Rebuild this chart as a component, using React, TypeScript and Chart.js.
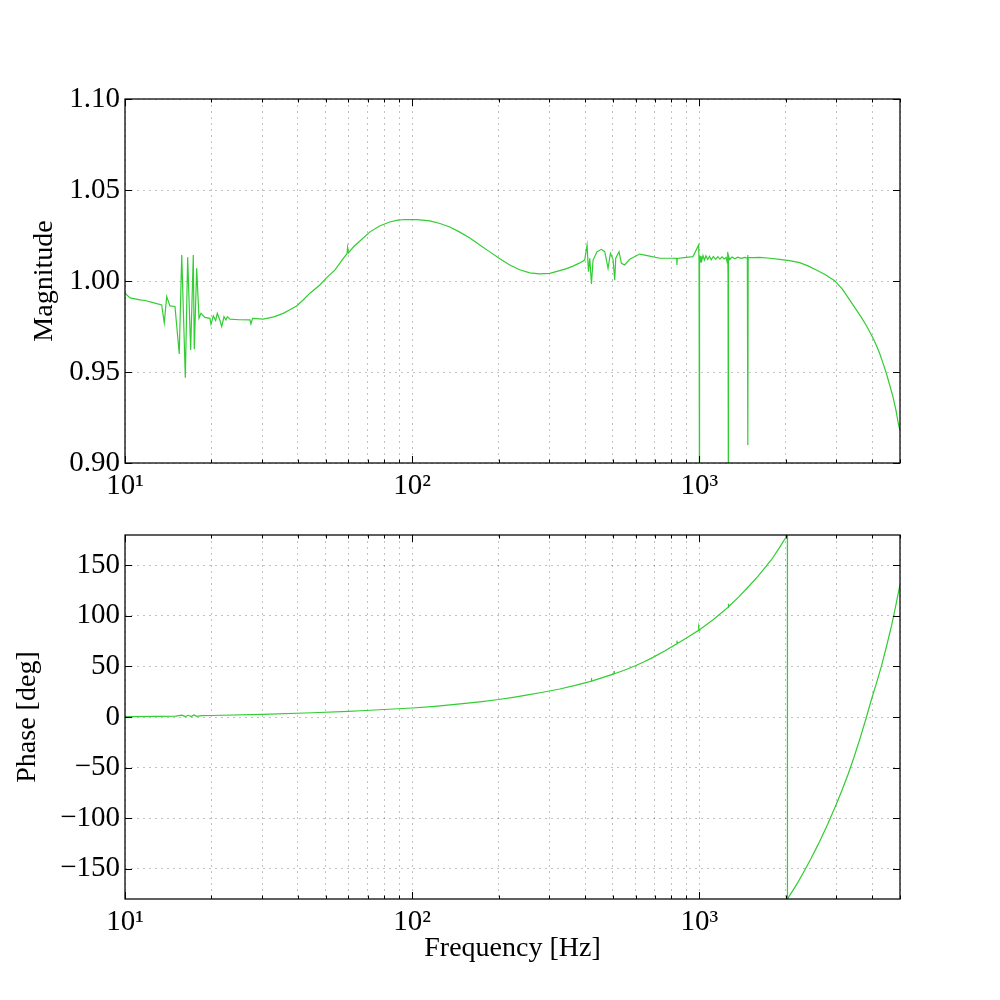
import { useEffect, useRef } from "react";
import { Chart, registerables } from "chart.js";

Chart.register(...registerables);

const FONT = "'Liberation Serif', 'Times New Roman', serif";
const LINE_COLOR = "#32cd32";

// magnitude trace
const magFreq = [
  10, 10.41, 11.28, 11.74, 12.52, 13.42, 13.7, 13.97, 14.34, 14.93,
  15.45, 15.76, 16.22, 16.53, 16.93, 17.29, 17.43, 17.77, 18.1, 18.39,
  18.98, 19.76, 19.93, 20.3, 20.69, 20.96, 21.42, 21.72, 22.12, 22.47,
  22.71, 23.2, 25.0, 27.23, 27.45, 27.82, 30.29, 33.0, 35.56, 37.5,
  39.6, 41.8, 44.06, 47.72, 50.5, 53.8, 57.0, 59.3, 59.6, 60.0,
  62.5, 65.8, 71.3, 77.0, 83.6, 89.0, 94.3, 104, 115.3, 125,
  135.3, 146, 158.8, 172, 186.4, 202, 218.8, 237, 256.9, 278,
  301.5, 326.6, 345, 363.4, 382, 399,
  406.6, 411.2, 415.5, 421.1, 426.6, 440.5, 456.3, 468.5, 481.1, 490.4,
  500.7, 507.6, 511.7, 525.4, 535.6, 550, 572.4, 620.2, 672, 728,
  810, 834, 836, 838, 900, 950.6, 995, 998, 1000, 1002,
  1004, 1008, 1013, 1020, 1030, 1042, 1055, 1070, 1085, 1100,
  1120, 1140, 1160, 1180, 1200, 1220, 1240, 1252, 1256, 1259,
  1261, 1263, 1266, 1275, 1300, 1330, 1360, 1400, 1440, 1470,
  1474, 1477, 1480, 1550, 1623, 1760, 1905, 2060, 2236, 2390,
  2556, 2750, 2960, 3150, 3338, 3500, 3667, 3820, 3972, 4110,
  4245, 4360, 4480, 4600, 4724, 4840, 4943, 5000,
];
const magValues = [
  0.9933, 0.9907, 0.9896, 0.9893, 0.9881, 0.9868, 0.977, 0.9914, 0.9863, 0.986,
  0.9599, 1.0143, 0.9469, 1.013, 0.9621, 1.0143, 0.9625, 1.007, 0.9795, 0.9822,
  0.98, 0.9795, 0.9762, 0.9808, 0.9783, 0.9822, 0.9783, 0.9749, 0.9804, 0.9786,
  0.9804, 0.979, 0.9787, 0.9786, 0.9764, 0.9795, 0.9791, 0.9803, 0.9822, 0.9842,
  0.9863, 0.9897, 0.9933, 0.9978, 1.002, 1.006, 1.0115, 1.015, 1.0185, 1.0155,
  1.0188, 1.022, 1.027, 1.0302, 1.0324, 1.0334, 1.0338, 1.0337, 1.033, 1.0316,
  1.0297, 1.027, 1.0236, 1.0198, 1.016, 1.0122, 1.0088, 1.0062, 1.0045, 1.0039,
  1.0042, 1.0057, 1.0068, 1.0082, 1.0098, 1.0115,
  1.0198, 1.0051, 1.0125, 0.9984, 1.0115, 1.0161, 1.0174, 1.0161, 1.007, 1.0152,
  1.0119, 1.0005, 1.0125, 1.0161, 1.0097, 1.0088, 1.0119, 1.0148, 1.0137, 1.0125,
  1.0125, 1.0124, 1.0088, 1.0124, 1.013, 1.0134, 1.0198, 1.01, 0.85, 1.007,
  1.014, 1.0105, 1.0138, 1.0112, 1.014, 1.0115, 1.0138, 1.0118, 1.0136, 1.0117,
  1.0135, 1.0119, 1.0134, 1.012, 1.0133, 1.0121, 1.013, 1.01, 1.016, 1.003,
  0.85, 1.006, 1.014, 1.0118, 1.0132, 1.0122, 1.0131, 1.0124, 1.013, 1.0125,
  1.0143, 0.9099, 1.013, 1.0128, 1.013, 1.0125, 1.0119, 1.0112, 1.0101, 1.0083,
  1.006, 1.0034, 1.0002, 0.9955, 0.9896, 0.9848, 0.98, 0.9754, 0.9705, 0.9657,
  0.9603, 0.955, 0.9493, 0.943, 0.9365, 0.929, 0.921, 0.918,
];

// phase trace in degrees (wraps at +/-180)
const phaseFreq = [
  10, 13, 15, 15.8, 16.2, 16.6, 17.0, 17.4, 17.8, 18.5,
  20, 30, 45, 60, 66, 80, 100, 120, 150, 175,
  200, 225, 250, 285, 326.6, 370, 415.5, 420, 421, 422,
  460, 504, 505, 506, 545, 596, 640, 690, 760, 834,
  836, 838, 900, 990, 995, 1000, 1005, 1120, 1259, 1262,
  1265, 1370, 1477, 1600, 1781, 1900, 2027, 2028, 2100, 2200,
  2300, 2450, 2600, 2800, 3000, 3150, 3300, 3450, 3615, 3790,
  3972, 4140, 4303, 4480, 4663, 4800, 4943, 5000,
];
const phaseValues = [
  0.3, 0.6, 0.8, 1.8, 0.4, 1.7, 0.5, 2.1, 0.7, 1.3,
  1.5, 2.6, 4.2, 5.6, 6.2, 7.4, 8.9, 10.6, 13.2, 15.2,
  17.3, 19.5, 21.6, 24.5, 27.7, 31.3, 35.0, 35.4, 38.5, 35.5,
  39.0, 42.6, 45.5, 42.8, 46.0, 50.4, 54.4, 59.0, 65.5, 72.3,
  75.5, 72.6, 77.8, 85.4, 89.0, 86.0, 86.6, 96.5, 108.5, 112.0,
  109.0, 118.5, 128.3, 139.0, 155.3, 167.2, 180, -180, -173.2, -164,
  -154.3, -140, -125.5, -106, -86.3, -71.5, -56.3, -40.5, -22.7, -3.5,
  16.8, 33.5, 49.8, 69, 89.3, 106, 124, 131,
];

const freqTicks = [
  10, 20, 30, 40, 50, 60, 70, 80, 90,
  100, 200, 300, 400, 500, 600, 700, 800, 900,
  1000, 2000, 3000, 4000, 5000,
];
const freqLabels: Record<number, string> = { 10: "10¹", 100: "10²", 1000: "10³" };
const magTicks = [0.9, 0.95, 1.0, 1.05, 1.1];
const phaseTicks = [-150, -100, -50, 0, 50, 100, 150];

// box round the plot area with inward tick marks, like the original
const framePlugin = {
  id: "frame",
  afterDraw(chart: any) {
    const { ctx, chartArea } = chart;
    const { left, right, top, bottom } = chartArea;
    const xs = chart.scales.x;
    const ys = chart.scales.y;
    ctx.save();
    ctx.strokeStyle = "#000";
    ctx.lineWidth = 1;
    ctx.beginPath();
    for (const v of freqTicks) {
      const px = Math.round(xs.getPixelForValue(v)) + 0.5;
      const len = freqLabels[v] ? 7 : 3.5;
      ctx.moveTo(px, bottom);
      ctx.lineTo(px, bottom - len);
      ctx.moveTo(px, top);
      ctx.lineTo(px, top + len);
    }
    for (const t of ys.ticks) {
      const py = Math.round(ys.getPixelForValue(t.value)) + 0.5;
      ctx.moveTo(left, py);
      ctx.lineTo(left + 7, py);
      ctx.moveTo(right, py);
      ctx.lineTo(right - 7, py);
    }
    ctx.stroke();
    ctx.lineWidth = 1.25;
    ctx.strokeRect(left, top, right - left, bottom - top);
    ctx.restore();
  },
};

type PanelProps = {
  freq: number[];
  values: number[];
  yMin: number;
  yMax: number;
  yTicks: number[];
  yFormat: (v: number) => string;
  yTitle: string;
  yTitlePad: number;
  padTop: number;
  xHeight: number;
  xTitle?: string;
};

const Panel = (p: PanelProps) => {
  const chartRef = useRef<HTMLCanvasElement | null>(null);
  const chartInstance = useRef<Chart | null>(null);

  useEffect(() => {
    if (!chartRef.current) return;
    if (chartInstance.current) chartInstance.current.destroy();

    const points = p.freq.map((f, i) => ({ x: f, y: p.values[i] }));
    const tickFont = { family: FONT, size: 29 };
    const titleFont = { family: FONT, size: 28 };

    chartInstance.current = new Chart(chartRef.current, {
      type: "scatter",
      data: {
        datasets: [
          {
            data: points,
            showLine: true,
            borderColor: LINE_COLOR,
            backgroundColor: LINE_COLOR,
            borderWidth: 1.2,
            pointRadius: 0,
            tension: 0,
          },
        ],
      },
      options: {
        animation: false,
        responsive: true,
        maintainAspectRatio: false,
        events: [],
        layout: { padding: { top: p.padTop, right: 100, left: 0, bottom: 0 } },
        plugins: {
          legend: { display: false },
          tooltip: { enabled: false },
        },
        scales: {
          x: {
            type: "logarithmic",
            min: 10,
            max: 5000,
            afterBuildTicks: (scale: any) => {
              scale.ticks = freqTicks.map((v) => ({ value: v, major: !!freqLabels[v] }));
            },
            afterFit: (scale: any) => {
              scale.height = p.xHeight;
            },
            grid: {
              color: "rgba(0, 0, 0, 0.24)",
              lineWidth: 1,
              drawTicks: false,
            },
            border: { display: false, dash: [2, 4] },
            ticks: {
              autoSkip: false,
              maxRotation: 0,
              padding: 6,
              color: "#000",
              font: tickFont,
              callback: (value: any) => freqLabels[Number(value)] ?? "",
            },
            title: {
              display: !!p.xTitle,
              text: p.xTitle ?? "",
              color: "#000",
              font: titleFont,
              padding: { top: 0, bottom: 35 },
            },
          },
          y: {
            type: "linear",
            min: p.yMin,
            max: p.yMax,
            afterBuildTicks: (scale: any) => {
              scale.ticks = p.yTicks.map((v) => ({ value: v }));
            },
            afterFit: (scale: any) => {
              scale.width = 125;
            },
            grid: {
              color: "rgba(0, 0, 0, 0.24)",
              lineWidth: 1,
              drawTicks: false,
            },
            border: { display: false, dash: [2, 4] },
            ticks: {
              padding: 5,
              color: "#000",
              font: tickFont,
              callback: (value: any) => p.yFormat(Number(value)),
            },
            title: {
              display: true,
              text: p.yTitle,
              color: "#000",
              font: titleFont,
              padding: { top: p.yTitlePad, bottom: 0 },
            },
          },
        },
      },
      plugins: [framePlugin],
    } as any);

    return () => {
      if (chartInstance.current) {
        chartInstance.current.destroy();
        chartInstance.current = null;
      }
    };
  }, []);

  return (
    <div style={{ width: 1000, height: 500, position: "relative" }}>
      <canvas ref={chartRef} />
    </div>
  );
};

export default function App() {
  return (
    <div style={{ position: "absolute", left: 0, top: 0, width: 1000, height: 1000, background: "#fff" }}>
      <Panel
        freq={magFreq}
        values={magValues}
        yMin={0.9}
        yMax={1.1}
        yTicks={magTicks}
        yFormat={(v) => v.toFixed(2)}
        yTitle="Magnitude"
        yTitlePad={28}
        padTop={99}
        xHeight={37}
      />
      <Panel
        freq={phaseFreq}
        values={phaseValues}
        yMin={-180}
        yMax={180}
        yTicks={phaseTicks}
        yFormat={(v) => (v < 0 ? "\u2212" + Math.abs(v) : String(v))}
        yTitle="Phase [deg]"
        yTitlePad={11}
        padTop={35}
        xHeight={101}
        xTitle="Frequency [Hz]"
      />
    </div>
  );
}
